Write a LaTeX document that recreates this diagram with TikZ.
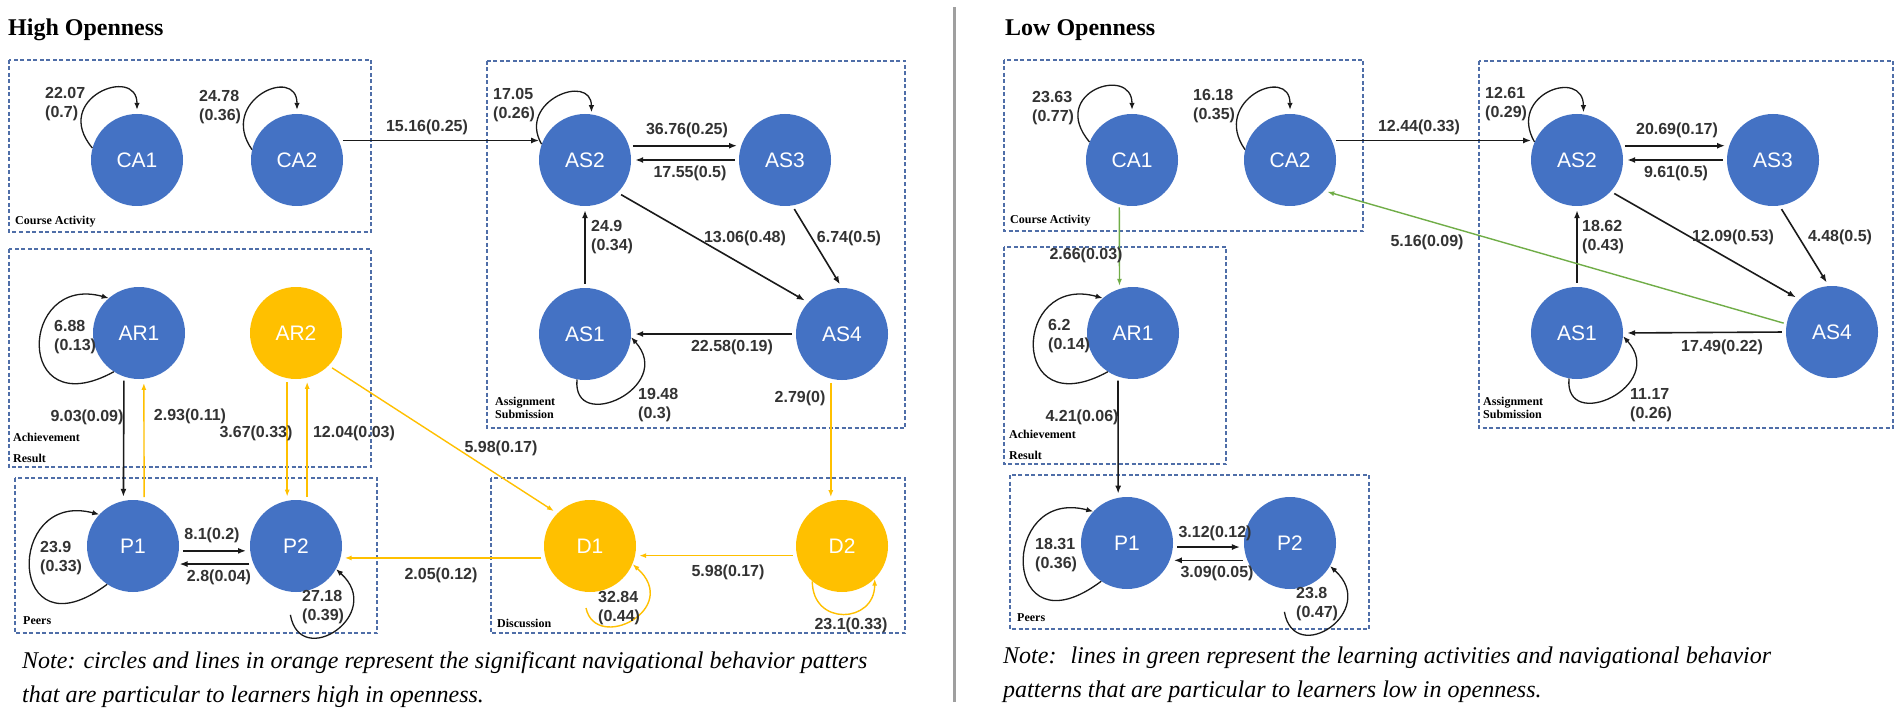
\documentclass[tikz,border=0pt]{standalone}
\usepackage{fontspec}
\setmainfont{Liberation Serif}
\setsansfont{Liberation Sans}
\usetikzlibrary{arrows.meta}

\definecolor{nodeblue}{HTML}{4472C4}
\definecolor{nodeorange}{HTML}{FFC000}
\definecolor{linegreen}{HTML}{70AD47}
\definecolor{boxblue}{HTML}{4F6EA8}
\definecolor{lblgray}{HTML}{333333}
\definecolor{linkblack}{HTML}{1A1A1A}

\tikzset{
  state/.style={circle, fill=nodeblue, minimum size=92pt, inner sep=0pt, text=white, font=\sffamily\fontsize{21}{24}\selectfont},
  hot/.style={state, fill=nodeorange},
  grp/.style={draw=boxblue, line width=1.5pt, dash pattern=on 4pt off 2.5pt},
  grplbl/.style={font=\rmfamily\bfseries\fontsize{12}{21}\selectfont, anchor=west, inner sep=0pt, align=left},
  lbl/.style={font=\sffamily\bfseries\fontsize{16}{19}\selectfont, text=lblgray, inner sep=0pt, align=left},
  link/.style={draw=linkblack, line width=1.6pt, shorten >=4pt, shorten <=4pt, -{Latex[length=8pt,width=6pt]}},
  loopy/.style={draw=linkblack, line width=1.3pt, -{Latex[length=7pt,width=5.5pt]}},
  olink/.style={draw=nodeorange, line width=1.4pt, shorten >=4pt, shorten <=4pt, -{Latex[length=7pt,width=5pt]}},
  oloopy/.style={draw=nodeorange, line width=1.4pt, -{Latex[length=7pt,width=5pt]}},
  glink/.style={draw=linegreen, line width=1.4pt, shorten >=3pt, shorten <=3pt, -{Latex[length=7pt,width=5pt]}},
  heading/.style={font=\rmfamily\bfseries\fontsize{24}{28}\selectfont, anchor=base west, inner sep=0pt},
  notetext/.style={font=\rmfamily\itshape\fontsize{24}{34}\selectfont, anchor=base west, inner sep=0pt}
}

\begin{document}
\begin{tikzpicture}[x=1pt,y=1pt]
    \useasboundingbox (0,0) rectangle (1902,716);
    \fill[white] (0,0) rectangle (1902,716);

    % ---------------- high openness ----------------
    \node[heading] (hTitle) at (8,680) {High Openness};

    \draw[grp] (9,656) rectangle (371,484);
    \draw[grp] (487,655) rectangle (905,288);
    \draw[grp] (9,467) rectangle (371,249);
    \draw[grp] (15,238) rectangle (377,83);
    \draw[grp] (491,238) rectangle (905,83);

    \node[grplbl] (hCAlbl) at (15,494) {Course Activity};
    \node[grplbl] (hARlbl) at (13,268.5) {Achievement\\Result};
    \node[grplbl] (hASlbl) at (495,308.5) {Assignment\\[-8pt]Submission};
    \node[grplbl] (hPlbl) at (23,95) {Peers};
    \node[grplbl] (hDlbl) at (497,93) {Discussion};

    \node[state] (CA1) at (137,556) {CA1};
    \node[state] (CA2) at (297,556) {CA2};
    \node[state] (AS2) at (585,556) {AS2};
    \node[state] (AS3) at (785,556) {AS3};
    \node[state] (AS1) at (585,382) {AS1};
    \node[state] (AS4) at (842,382) {AS4};
    \node[state] (AR1) at (139,383) {AR1};
    \node[hot] (AR2) at (296,383) {AR2};
    \node[state] (P1) at (133,170) {P1};
    \node[state] (P2) at (296,170) {P2};
    \node[hot] (D1) at (590,170) {D1};
    \node[hot] (D2) at (842,170) {D2};

    \draw[link] (CA2.25) -- (AS2.155);
    \draw[link] (AS2.18) -- (AS3.162);
    \draw[link] (AS3.west) -- (AS2.east);
    \draw[link] (AS1.north) -- (AS2.south);
    \draw[link] (AS2.-45) -- (AS4.137);
    \draw[link] (AS3.-81) -- (AS4.north);
    \draw[link] (AS4.west) -- (AS1.east);
    \draw[link] (AR1.-109) -- (P1.102);
    \draw[link] (P1.-6) -- (P2.186);
    \draw[link] (P2.203) -- (P1.-23);

    \draw[olink] (AS4.-104) -- (D2.104);
    \draw[olink] (D2.192) -- (D1.-12);
    \draw[olink] (D1.195) -- (P2.-15);
    \draw[olink] (AR2.-45) -- (D1.135);
    \draw[olink] (P1.76) -- (AR1.-84);
    \draw[olink] (AR2.-101) -- (P2.101);
    \draw[olink] (P2.76) -- (AR2.-76);

    % self loops
    \draw[loopy] (CA1.165) .. controls +(130:65) and +(90:45) .. ([yshift=4pt]CA1.north);
    \draw[loopy] (CA2.167) .. controls +(125:60) and +(90:45) .. ([yshift=4pt]CA2.north);
    \draw[loopy] (AS2.160) .. controls +(120:50) and +(90:40) .. ([yshift=2pt]AS2.82);
    \draw[loopy] (AS1.-100) .. controls +(-5,-55) and +(45,-50) .. (AS1.-4);
    \draw[loopy] (AR1.-123) .. controls +(-100,-55) and +(-90,25) .. (AR1.131);
    \draw[loopy] (P1.-124) .. controls +(-100,-75) and +(-95,25) .. (P1.137);
    \draw[loopy] ([yshift=-23pt]P2.-97) .. controls +(10,-56) and +(50,-45) .. (P2.-30);
    \draw[oloopy] ([yshift=-16pt]D1.-95) .. controls +(10,-45) and +(50,-45) .. (D1.-23);
    \draw[oloopy] (D2.-130) .. controls +(0,-45) and +(0,-45) .. (D2.-45);

    \node[lbl] (hCA1CA2) at (427,589) {15.16(0.25)};
    \node[lbl, anchor=west] (hCA1s) at (45,612) {22.07\\(0.7)};
    \node[lbl, anchor=west] (hCA2s) at (199,609) {24.78\\(0.36)};
    \node[lbl, anchor=west] (hAS2s) at (493,611) {17.05\\(0.26)};
    \node[lbl] (hAS2AS3) at (687,586) {36.76(0.25)};
    \node[lbl] (hAS3AS2) at (690,543) {17.55(0.5)};
    \node[lbl, anchor=west] (hAS1AS2) at (591,479) {24.9\\(0.34)};
    \node[lbl] (hAS2AS4) at (745,478) {13.06(0.48)};
    \node[lbl] (hAS3AS4) at (849,478) {6.74(0.5)};
    \node[lbl] (hAS4AS1) at (732,369) {22.58(0.19)};
    \node[lbl, anchor=west] (hAS1s) at (638,311) {19.48\\(0.3)};
    \node[lbl] (hAS4D2) at (800,318) {2.79(0)};
    \node[lbl] (hD2D1) at (728,144) {5.98(0.17)};
    \node[lbl] (hD2s) at (851,91) {23.1(0.33)};
    \node[lbl, anchor=west] (hD1s) at (598,108) {32.84\\(0.44)};
    \node[lbl] (hD1P2) at (441,141) {2.05(0.12)};
    \node[lbl] (hAR2D1) at (501,268) {5.98(0.17)};
    \node[lbl] (hP1P2) at (212,181) {8.1(0.2)};
    \node[lbl] (hP2P1) at (219,139) {2.8(0.04)};
    \node[lbl, anchor=west] (hP1s) at (40,158) {23.9\\(0.33)};
    \node[lbl, anchor=west] (hP2s) at (302,109) {27.18\\(0.39)};
    \node[lbl, anchor=west] (hAR1s) at (54,379) {6.88\\(0.13)};
    \node[lbl] (hAR1P1) at (87,299) {9.03(0.09)};
    \node[lbl] (hP1AR1) at (190,300) {2.93(0.11)};
    \node[lbl] (hAR2P2) at (256,283) {3.67(0.33)};
    \node[lbl] (hP2AR2) at (354,283) {12.04(0.03)};

    \node[notetext] (hNote1) at (22,48) {Note: circles and lines in orange represent the significant navigational behavior patters};
    \node[notetext] (hNote2) at (22,14) {that are particular to learners high in openness.};

    % separator
    \draw[line width=3pt, gray!75] (954,14) -- (954,709);

    % ---------------- low openness ----------------
    \node[heading] (lTitle) at (1005,680) {Low Openness};

    \draw[grp] (1004,656) rectangle (1363,485);
    \draw[grp] (1479,655) rectangle (1893,288);
    \draw[grp] (1004,469) rectangle (1226,252);
    \draw[grp] (1010,241) rectangle (1369,87);

    \node[grplbl] (lCAlbl) at (1010,495) {Course Activity};
    \node[grplbl] (lARlbl) at (1009,271.5) {Achievement\\Result};
    \node[grplbl] (lASlbl) at (1483,308.5) {Assignment\\[-8pt]Submission};
    \node[grplbl] (lPlbl) at (1017,98) {Peers};

    \node[state] (CA1r) at (1132,556) {CA1};
    \node[state] (CA2r) at (1290,556) {CA2};
    \node[state] (AS2r) at (1577,556) {AS2};
    \node[state] (AS3r) at (1773,556) {AS3};
    \node[state] (AS1r) at (1577,383) {AS1};
    \node[state] (AS4r) at (1832,384) {AS4};
    \node[state] (AR1r) at (1133,383) {AR1};
    \node[state] (P1r) at (1127,173) {P1};
    \node[state] (P2r) at (1290,173) {P2};

    \draw[link] (CA2r.25) -- (AS2r.155);
    \draw[link] (AS2r.18) -- (AS3r.162);
    \draw[link] (AS3r.west) -- (AS2r.east);
    \draw[link] (AS1r.north) -- (AS2r.south);
    \draw[link] (AS2r.-43) -- (AS4r.135);
    \draw[link] (AS3r.-82) -- (AS4r.94);
    \draw[link] (AS4r.west) -- (AS1r.east);
    \draw[link] (AR1r.-109) -- (P1r.101);
    \draw[link] (P1r.-5) -- (P2r.185);
    \draw[link] (P2r.202) -- (P1r.-22);

    \draw[glink] (AS4r.170) -- (CA2r.-42);
    \draw[glink] (CA1r.-106) -- (AR1r.107);

    % self loops
    \draw[loopy] (CA1r.157) .. controls +(130:65) and +(90:45) .. ([yshift=4pt]CA1r.north);
    \draw[loopy] (CA2r.167) .. controls +(125:60) and +(90:45) .. ([yshift=4pt]CA2r.north);
    \draw[loopy] (AS2r.157) .. controls +(120:55) and +(90:45) .. ([yshift=2pt]AS2r.82);
    \draw[loopy] (AS1r.-100) .. controls +(-5,-55) and +(45,-50) .. (AS1r.-4);
    \draw[loopy] (AR1r.-123) .. controls +(-100,-55) and +(-90,25) .. (AR1r.131);
    \draw[loopy] (P1r.-124) .. controls +(-100,-75) and +(-95,25) .. (P1r.137);
    \draw[loopy] ([yshift=-23pt]P2r.-97) .. controls +(10,-56) and +(50,-45) .. (P2r.-30);

    \node[lbl, anchor=west] (lCA1s) at (1032,608) {23.63\\(0.77)};
    \node[lbl, anchor=west] (lCA2s) at (1193,610) {16.18\\(0.35)};
    \node[lbl] (lCA2AS2) at (1419,589) {12.44(0.33)};
    \node[lbl, anchor=west] (lAS2s) at (1485,612) {12.61\\(0.29)};
    \node[lbl] (lAS2AS3) at (1677,586) {20.69(0.17)};
    \node[lbl] (lAS3AS2) at (1676,543) {9.61(0.5)};
    \node[lbl, anchor=west] (lAS1AS2) at (1582,479) {18.62\\(0.43)};
    \node[lbl] (lAS2AS4) at (1733,479) {12.09(0.53)};
    \node[lbl] (lAS3AS4) at (1840,479) {4.48(0.5)};
    \node[lbl] (lAS4AS1) at (1722,369) {17.49(0.22)};
    \node[lbl] (lAS4CA2) at (1427,474) {5.16(0.09)};
    \node[lbl, anchor=west] (lAS1s) at (1630,311) {11.17\\(0.26)};
    \node[lbl] (lCA1AR1) at (1086,461) {2.66(0.03)};
    \node[lbl, anchor=west] (lAR1s) at (1048,380) {6.2\\(0.14)};
    \node[lbl] (lAR1P1) at (1082,299) {4.21(0.06)};
    \node[lbl] (lP1P2) at (1215,183) {3.12(0.12)};
    \node[lbl] (lP2P1) at (1217,143) {3.09(0.05)};
    \node[lbl, anchor=west] (lP1s) at (1035,161) {18.31\\(0.36)};
    \node[lbl, anchor=west] (lP2s) at (1296,112) {23.8\\(0.47)};

    \node[notetext] (lNote1) at (1003,53) {Note:~ lines in green represent the learning activities and navigational behavior};
    \node[notetext] (lNote2) at (1003,19) {patterns that are particular to learners low in openness.};
\end{tikzpicture}
\end{document}
